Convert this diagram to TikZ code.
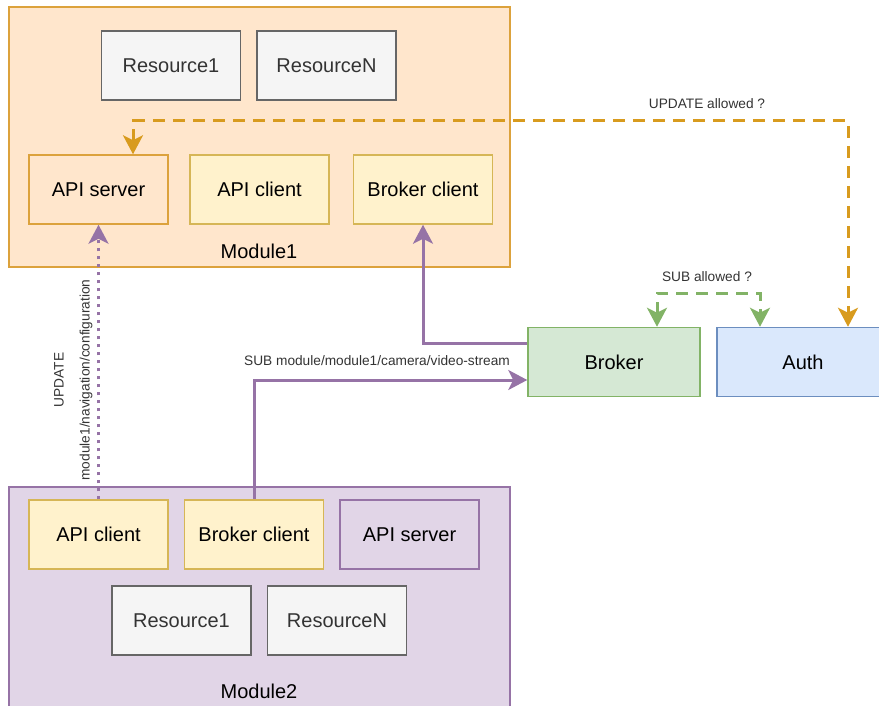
\documentclass[tikz,border=0pt]{standalone}
\usepackage{fontspec}
\setmainfont{Liberation Sans}
\usetikzlibrary{arrows.meta}
\definecolor{orfill}{HTML}{FFE6CC}
\definecolor{orline}{HTML}{DCA23C}
\definecolor{orarrow}{HTML}{D89B1E}
\definecolor{ylfill}{HTML}{FFF2CC}
\definecolor{ylline}{HTML}{D6B656}
\definecolor{pufill}{HTML}{E1D5E7}
\definecolor{puline}{HTML}{9673A6}
\definecolor{gnfill}{HTML}{D5E8D4}
\definecolor{gnline}{HTML}{82B366}
\definecolor{blfill}{HTML}{DAE8FC}
\definecolor{blline}{HTML}{6C8EBF}
\definecolor{grfill}{HTML}{F5F5F5}
\definecolor{grline}{HTML}{666666}
\definecolor{grtext}{HTML}{333333}
\tikzset{
  bigfont/.style={font=\fontsize{20}{24}\selectfont},
  smallfont/.style={font=\fontsize{13.7}{16}\selectfont, text=grtext, inner sep=0pt},
  module/.style={draw, line width=1.8pt, inner sep=0pt},
  box/.style={draw, line width=1.5pt, minimum width=139pt, minimum height=69pt, inner sep=0pt, bigfont},
  resbox/.style={box, fill=grfill, draw=grline, text=grtext},
  ylbox/.style={box, fill=ylfill, draw=ylline},
  orbox/.style={box, fill=orfill, draw=orline},
  pubox/.style={box, fill=pufill, draw=puline},
  gnbox/.style={box, fill=gnfill, draw=gnline, minimum width=172pt},
  blbox/.style={box, fill=blfill, draw=blline, minimum width=172pt},
  headtip/.style={-{Stealth[length=19pt, width=20pt, inset=5pt]}},
  bothtips/.style={{Stealth[length=19pt, width=20pt, inset=5pt]}-{Stealth[length=19pt, width=20pt, inset=5pt]}},
  purpline/.style={draw=puline, line width=3pt},
  dottedline/.style={purpline, dash pattern=on 3pt off 5pt},
  orline/.style={draw=orarrow, line width=3pt, dash pattern=on 12pt off 8pt},
  gnline/.style={draw=gnline, line width=3pt, dash pattern=on 12pt off 8pt},
}
\begin{document}
\begin{tikzpicture}[x=1pt, y=-1pt]
\useasboundingbox (0,0) rectangle (879,706);
\clip (0,0) rectangle (879,706);

% Module1 container and its parts
\node[module, fill=orfill, draw=orline, minimum width=501pt, minimum height=260pt] (mod1) at (259.5,137) {};
\node[bigfont] (mod1lbl) at (259,251) {Module1};
\node[resbox] (r1a) at (171,65.5) {Resource1};
\node[resbox] (rna) at (326.5,65.5) {ResourceN};
\node[orbox] (as1) at (98.5,189.5) {API server};
\node[ylbox] (ac1) at (259.5,189.5) {API client};
\node[ylbox] (bc1) at (423,189.5) {Broker client};

% Module2 container and its parts
\node[module, fill=pufill, draw=puline, minimum width=501pt, minimum height=243pt] (mod2) at (259.5,608.5) {};
\node[bigfont] (mod2lbl) at (259,691) {Module2};
\node[ylbox] (ac2) at (98.5,534.5) {API client};
\node[ylbox] (bc2) at (254,534.5) {Broker client};
\node[pubox] (as2) at (409.5,534.5) {API server};
\node[resbox] (r12) at (181.5,620.5) {Resource1};
\node[resbox] (rn2) at (337,620.5) {ResourceN};

% Broker and Auth
\node[gnbox] (broker) at (614,362) {Broker};
\node[blbox] (auth) at (803,362) {Auth};

% UPDATE request from Module2 to Module1
\draw[dottedline, headtip] (ac2.north) -- (as1.south);
\node[smallfont, rotate=90] (updlbl) at (59,380) {UPDATE};
\node[smallfont, rotate=90] (pathlbl) at (86,380) {module1/navigation/configuration};

% Subscription to the video stream
\draw[purpline, headtip] (bc2.north) |- ([yshift=-18pt]broker.west);
\node[smallfont] (sublbl) at (377,361) {SUB module/module1/camera/video-stream};
\draw[purpline, headtip] ([yshift=19pt]broker.west) -| (bc1.south);

% Authorisation checks
\coordinate (otop) at (500,121);
\draw[orline, bothtips] ([xshift=34.5pt]as1.north) |- (otop) -| ([xshift=45pt]auth.north);
\node[smallfont] (updallow) at (707,104) {UPDATE allowed ?};
\coordinate (gtop) at (707,293);
\draw[gnline, bothtips] ([xshift=43pt]broker.north) |- (gtop) -| ([xshift=-43pt]auth.north);
\node[smallfont] (suballow) at (707,277) {SUB allowed ?};
\end{tikzpicture}
\end{document}
